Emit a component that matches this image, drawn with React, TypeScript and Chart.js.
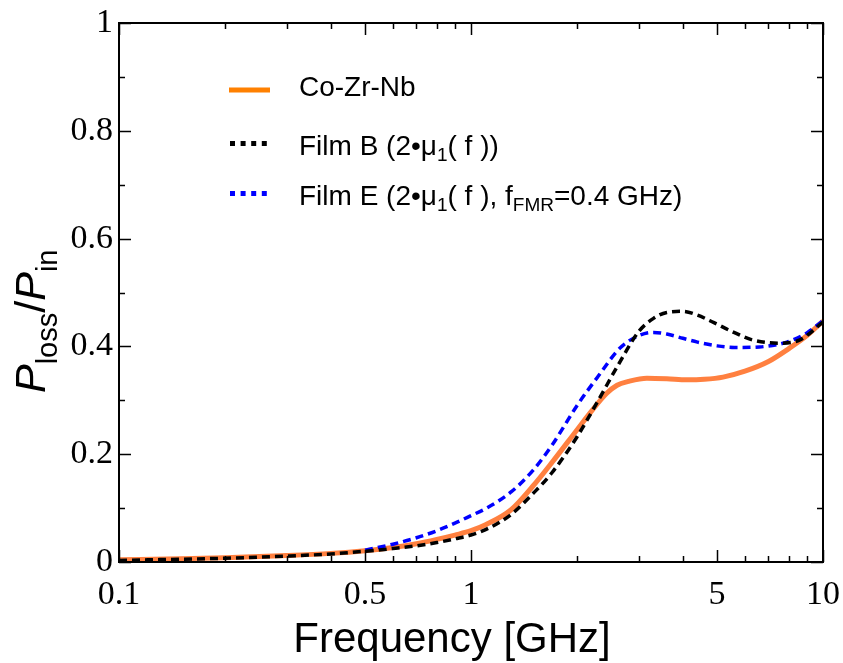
import React, { useEffect, useRef } from "react";
import { Chart, registerables } from "chart.js";

Chart.register(...registerables);

// ---- Data (frequency in GHz, Ploss/Pin) ----
const coZrNbFreq = [0.1, 0.15, 0.2, 0.3, 0.4, 0.5, 0.6, 0.7, 0.8, 0.9, 1.0, 1.1, 1.3, 1.5, 1.7, 2.0, 2.2, 2.43, 2.6, 2.8, 3.16, 3.6, 4.1, 4.6, 5.2, 6.0, 7.0, 8.0, 9.0, 10];
const coZrNbLoss = [0.004, 0.006, 0.008, 0.012, 0.016, 0.021, 0.027, 0.034, 0.042, 0.05, 0.058, 0.069, 0.097, 0.141, 0.185, 0.245, 0.28, 0.313, 0.328, 0.335, 0.341, 0.34, 0.338, 0.339, 0.343, 0.354, 0.372, 0.396, 0.42, 0.447];

const filmBFreq = [0.1, 0.2, 0.3, 0.4, 0.5, 0.6, 0.7, 0.8, 0.9, 1.0, 1.1, 1.3, 1.5, 1.7, 2.0, 2.3, 2.6, 3.0, 3.3, 3.6, 4.0, 4.4, 4.9, 5.5, 6.3, 7.5, 8.6, 10];
const filmBLoss = [0.003, 0.007, 0.011, 0.015, 0.02, 0.025, 0.03, 0.036, 0.043, 0.05, 0.06, 0.088, 0.127, 0.166, 0.232, 0.3, 0.362, 0.428, 0.452, 0.463, 0.465, 0.458, 0.444, 0.428, 0.412, 0.406, 0.412, 0.445];

const filmEFreq = [0.5, 0.6, 0.7, 0.8, 0.9, 1.0, 1.1, 1.3, 1.5, 1.7, 2.0, 2.3, 2.65, 3.0, 3.3, 3.6, 4.0, 4.4, 5.0, 5.6, 6.6, 7.9, 9.0, 10];
const filmELoss = [0.022, 0.033, 0.045, 0.058, 0.072, 0.086, 0.099, 0.13, 0.17, 0.217, 0.29, 0.345, 0.397, 0.42, 0.426, 0.423, 0.415, 0.408, 0.401, 0.398, 0.399, 0.408, 0.425, 0.448];

const xTickValues = [0.1, 0.2, 0.3, 0.4, 0.5, 0.6, 0.7, 0.8, 0.9, 1, 2, 3, 4, 5, 6, 7, 8, 9, 10];
const xLabeledTicks = [0.1, 0.5, 1, 5, 10];
const yTickValues = [0, 0.1, 0.2, 0.3, 0.4, 0.5, 0.6, 0.7, 0.8, 0.9, 1];
const yLabeledTicks = [0, 0.2, 0.4, 0.6, 0.8, 1];

const seriesNames = ["Co-Zr-Nb", "Film B", "Film E"];

const SANS = "'Liberation Sans', Arial, sans-serif";
const SERIF = "'Liberation Serif', 'Times New Roman', serif";

const isIn = (arr: number[], v: number) => arr.some((a) => Math.abs(a - v) < 1e-9);

type Run = { t: string; size: number; dy?: number; italic?: boolean };

function drawRuns(ctx: CanvasRenderingContext2D, x: number, y: number, runs: Run[]) {
  let cx = x;
  for (const r of runs) {
    ctx.font = `${r.italic ? "italic " : ""}${r.size}px ${SANS}`;
    ctx.fillText(r.t, cx, y + (r.dy || 0));
    cx += ctx.measureText(r.t).width;
  }
}

const framePlugin = {
  id: "frameTicks",
  afterDatasetsDraw(chart: any) {
    const { ctx, chartArea: a, scales } = chart;
    const x = scales.x;
    const y = scales.y;
    ctx.save();
    ctx.strokeStyle = "#000";
    ctx.lineWidth = 1.5;
    ctx.beginPath();
    for (const t of x.ticks) {
      const px = Math.round(x.getPixelForValue(t.value)) + 0.5;
      const len = isIn(xLabeledTicks, t.value) ? 12 : 6;
      ctx.moveTo(px, a.bottom);
      ctx.lineTo(px, a.bottom - len);
      ctx.moveTo(px, a.top);
      ctx.lineTo(px, a.top + len);
    }
    for (const t of y.ticks) {
      const py = Math.round(y.getPixelForValue(t.value)) + 0.5;
      const len = isIn(yLabeledTicks, t.value) ? 12 : 6;
      ctx.moveTo(a.left, py);
      ctx.lineTo(a.left + len, py);
      ctx.moveTo(a.right, py);
      ctx.lineTo(a.right - len, py);
    }
    ctx.stroke();
    ctx.lineWidth = 2;
    ctx.strokeRect(a.left, a.top, a.right - a.left, a.bottom - a.top);

    // Legend
    ctx.lineCap = "butt";
    ctx.lineWidth = 5;
    ctx.strokeStyle = "#FF8000";
    ctx.setLineDash([]);
    ctx.beginPath();
    ctx.moveTo(229, 90);
    ctx.lineTo(270, 90);
    ctx.stroke();
    ctx.setLineDash([5, 5.6]);
    ctx.strokeStyle = "#000";
    ctx.beginPath();
    ctx.moveTo(230, 143.5);
    ctx.lineTo(268, 143.5);
    ctx.stroke();
    ctx.strokeStyle = "#0000FF";
    ctx.beginPath();
    ctx.moveTo(230, 193.5);
    ctx.lineTo(268, 193.5);
    ctx.stroke();
    ctx.setLineDash([]);

    ctx.fillStyle = "#000";
    ctx.textAlign = "left";
    ctx.textBaseline = "alphabetic";
    drawRuns(ctx, 299, 96, [{ t: seriesNames[0], size: 28 }]);
    drawRuns(ctx, 299, 155, [
      { t: seriesNames[1] + " (2\u2022\u03bc", size: 28 },
      { t: "1", size: 19, dy: 6 },
      { t: "( f ))", size: 28 },
    ]);
    drawRuns(ctx, 299, 205, [
      { t: seriesNames[2] + " (2\u2022\u03bc", size: 28 },
      { t: "1", size: 19, dy: 6 },
      { t: "( f ), f", size: 28 },
      { t: "FMR", size: 19, dy: 6 },
      { t: "=0.4 GHz)", size: 28 },
    ]);

    // X axis title
    ctx.font = `42px ${SANS}`;
    ctx.textAlign = "center";
    ctx.fillText("Frequency [GHz]", 452, 652);

    // Y axis title (rotated)
    ctx.translate(45, 393);
    ctx.rotate(-Math.PI / 2);
    ctx.textAlign = "left";
    drawRuns(ctx, 0, 0, [
      { t: "P", size: 43, italic: true },
      { t: "loss", size: 29, dy: 12 },
      { t: "/", size: 43 },
      { t: "P", size: 43, italic: true },
      { t: "in", size: 29, dy: 12 },
    ]);
    ctx.restore();
  },
};

export default function App() {
  const ref = useRef<HTMLCanvasElement>(null);
  useEffect(() => {
    if (!ref.current) return;
    const toPts = (xs: number[], ys: number[]) => xs.map((v, i) => ({ x: v, y: ys[i] }));
    const chart = new Chart(ref.current, {
      type: "line",
      data: {
        datasets: [
          {
            label: seriesNames[0],
            data: toPts(coZrNbFreq, coZrNbLoss),
            borderColor: "#FF8040",
            borderWidth: 5,
            pointRadius: 0,
            cubicInterpolationMode: "monotone",
            order: 3,
          },
          {
            label: seriesNames[2],
            data: toPts(filmEFreq, filmELoss),
            borderColor: "#0000FF",
            borderWidth: 3.5,
            borderDash: [8, 5],
            pointRadius: 0,
            cubicInterpolationMode: "monotone",
            order: 2,
          },
          {
            label: seriesNames[1],
            data: toPts(filmBFreq, filmBLoss),
            borderColor: "#000000",
            borderWidth: 3.5,
            borderDash: [8, 5],
            pointRadius: 0,
            cubicInterpolationMode: "monotone",
            order: 1,
          },
        ],
      },
      options: {
        animation: false,
        responsive: false,
        devicePixelRatio: 1,
        layout: { padding: { left: 0, top: 23, right: 20, bottom: 0 } },
        plugins: { legend: { display: false }, tooltip: { enabled: false } },
        scales: {
          x: {
            type: "logarithmic",
            min: 0.1,
            max: 10,
            grid: { display: false, drawTicks: false },
            border: { display: false },
            afterBuildTicks: (scale: any) => {
              scale.ticks = xTickValues.map((v) => ({ value: v }));
            },
            afterFit: (scale: any) => {
              scale.height = 101;
              scale.paddingLeft = 0;
              scale.paddingRight = 0;
            },
            ticks: {
              autoSkip: false,
              maxRotation: 0,
              padding: 13,
              color: "#000",
              font: { family: SERIF, size: 34 },
              callback: (v: any) => (isIn(xLabeledTicks, Number(v)) ? String(Number(v)) : ""),
            },
          },
          y: {
            type: "linear",
            min: 0,
            max: 1,
            grid: { display: false, drawTicks: false },
            border: { display: false },
            afterBuildTicks: (scale: any) => {
              scale.ticks = yTickValues.map((v) => ({ value: v }));
            },
            afterFit: (scale: any) => {
              scale.width = 119;
              scale.paddingTop = 0;
              scale.paddingBottom = 0;
            },
            ticks: {
              autoSkip: false,
              padding: 6,
              color: "#000",
              font: { family: SERIF, size: 34 },
              callback: (v: any) => (isIn(yLabeledTicks, Number(v)) ? String(Math.round(Number(v) * 10) / 10) : ""),
            },
          },
        },
      },
      plugins: [framePlugin],
    } as any);
    return () => chart.destroy();
  }, []);
  return (
    <div style={{ position: "absolute", left: 0, top: 0, width: 843, height: 663, background: "#fff" }}>
      <canvas ref={ref} width={843} height={663} style={{ width: 843, height: 663, display: "block" }} />
    </div>
  );
}
